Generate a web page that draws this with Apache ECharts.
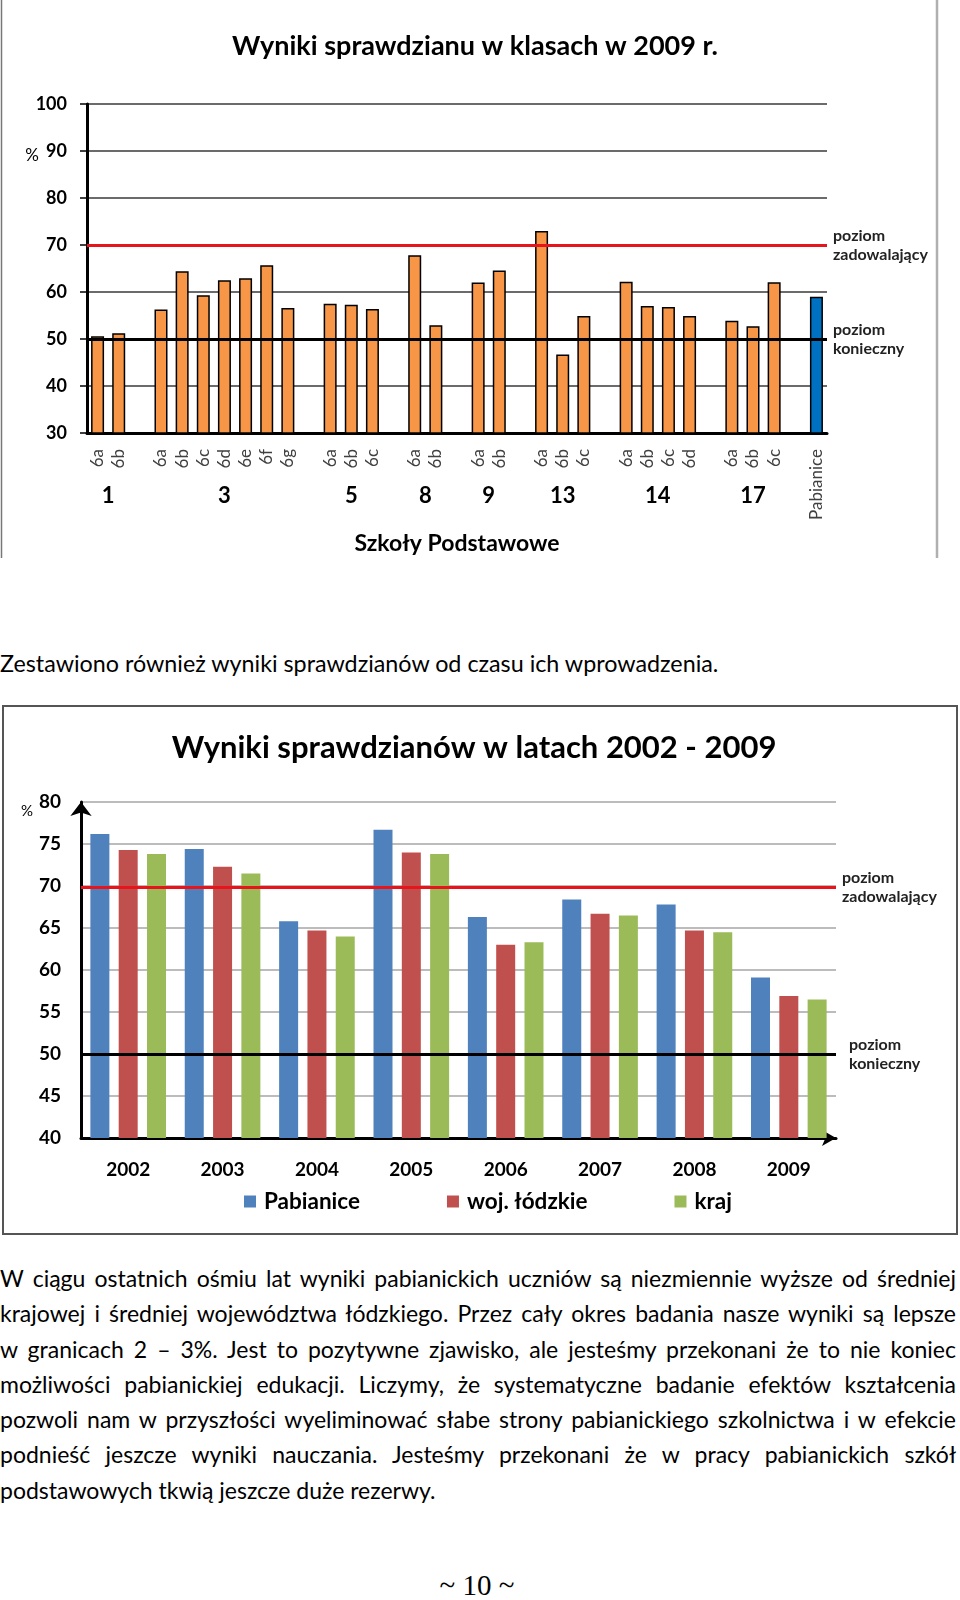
<!DOCTYPE html>
<html>
<head>
<meta charset="utf-8">
<script src="https://cdn.jsdelivr.net/npm/echarts@6/dist/echarts.min.js"></script>
<style>
  html, body { margin:0; padding:0; background:#fff; }
  #page { position:relative; width:960px; height:1600px; background:#fff; overflow:hidden; font-family:Lato, "Open Sans", sans-serif; }
  #c1 { position:absolute; left:0; top:0; width:960px; height:560px; }
  #c2 { position:absolute; left:0; top:700px; width:960px; height:540px; }
  #t1 { position:absolute; left:0; top:649px; font-size:23.3px; line-height:28px; color:#000; white-space:nowrap; }
  #para { position:absolute; left:0; top:1261px; width:956px; font-size:23px; color:#000; }
  #para div { height:35.3px; line-height:35.3px; white-space:nowrap; text-align:justify; text-align-last:justify; }
  #para div.last { text-align:left; text-align-last:left; }
  #pg { position:absolute; left:0; width:954px; top:1568px; text-align:center; font-family:"Liberation Serif", serif; font-size:29px; line-height:34px; }
</style>
</head>
<body>
<div id="page">
  <div id="c1"></div>
  <div id="t1">Zestawiono również wyniki sprawdzianów od czasu ich wprowadzenia.</div>
  <div id="c2"></div>
  <div id="para">
    <div>W ciągu ostatnich ośmiu lat wyniki pabianickich uczniów są niezmiennie wyższe od średniej</div>
    <div>krajowej i średniej województwa łódzkiego. Przez cały okres badania nasze wyniki są lepsze</div>
    <div>w granicach 2 – 3%. Jest to pozytywne zjawisko, ale jesteśmy przekonani że to nie koniec</div>
    <div>możliwości pabianickiej edukacji. Liczymy, że systematyczne badanie efektów kształcenia</div>
    <div>pozwoli nam w przyszłości wyeliminować słabe strony pabianickiego szkolnictwa i w efekcie</div>
    <div>podnieść jeszcze wyniki nauczania. Jesteśmy przekonani że w pracy pabianickich szkół</div>
    <div class="last">podstawowych tkwią jeszcze duże rezerwy.</div>
  </div>
  <div id="pg">~ 10 ~</div>
</div>
<script>
// ---------- Chart 1 data ----------
const title1 = 'Wyniki sprawdzianu w klasach w 2009 r.';
const schools = ['1', '3', '5', '8', '9', '13', '14', '17'];
const schoolClasses = [
  ['6a', '6b'],
  ['6a', '6b', '6c', '6d', '6e', '6f', '6g'],
  ['6a', '6b', '6c'],
  ['6a', '6b'],
  ['6a', '6b'],
  ['6a', '6b', '6c'],
  ['6a', '6b', '6c', '6d'],
  ['6a', '6b', '6c']
];
const schoolScores = [
  [50.6, 51.2],
  [56.3, 64.4, 59.3, 62.5, 62.9, 65.7, 56.6],
  [57.5, 57.3, 56.4],
  [67.8, 52.9],
  [62.0, 64.6],
  [73.0, 46.7, 54.9],
  [62.2, 57.0, 56.8, 54.9],
  [53.9, 52.7, 62.1]
];
const cityLabel = 'Pabianice';
const cityScore = 59.0;
const yTicks1 = [30, 40, 50, 60, 70, 80, 90, 100];
const satisfactory1 = 70;
const required1 = 50;

// ---------- Chart 2 data ----------
const title2 = 'Wyniki sprawdzianów w latach 2002 - 2009';
const years = ['2002', '2003', '2004', '2005', '2006', '2007', '2008', '2009'];
const seriesNames = ['Pabianice', 'woj. łódzkie', 'kraj'];
const pabianice = [76.2, 74.4, 65.8, 76.7, 66.3, 68.4, 67.8, 59.1];
const lodzkie = [74.3, 72.3, 64.7, 74.0, 63.0, 66.7, 64.7, 56.9];
const kraj = [73.8, 71.5, 64.0, 73.8, 63.3, 66.5, 64.5, 56.5];
const yTicks2 = [40, 45, 50, 55, 60, 65, 70, 75, 80];
const satisfactory2 = 69.8;
const required2 = 50;

const FONT = 'Lato';

// build chart 1 categories (empty slot between schools)
const cats1 = [];
const bars1 = [];
const groupCenters = [];
schools.forEach((s, gi) => {
  const start = cats1.length;
  schoolClasses[gi].forEach((c, ci) => {
    cats1.push(c);
    bars1.push({ value: schoolScores[gi][ci] });
  });
  groupCenters.push({ pos: start + schoolClasses[gi].length / 2, label: s });
  cats1.push('');
  bars1.push('-');
});
cats1.push(cityLabel);
bars1.push({ value: cityScore, itemStyle: { color: '#0070C0' } });

const c1 = echarts.init(document.getElementById('c1'), null, { renderer: 'canvas' });
c1.setOption({
  animation: false,
  grid: { left: 87, right: 133, top: 104, bottom: 127 },
  graphic: [
    { type: 'line', shape: { x1: 1.5, y1: 0, x2: 1.5, y2: 558 }, style: { stroke: '#777', lineWidth: 1.5 } },
    { type: 'line', shape: { x1: 937, y1: 0, x2: 937, y2: 558 }, style: { stroke: '#b0b0b0', lineWidth: 2.5 } },
    { type: 'text', x: 475, y: 46, style: { text: title1, font: 'bold 27px ' + FONT, fill: '#000', textAlign: 'center', textVerticalAlign: 'middle' } },
    { type: 'text', x: 32, y: 156, style: { text: '%', font: '17px ' + FONT, fill: '#000', textAlign: 'center', textVerticalAlign: 'middle' } }
  ],
  xAxis: [
    {
      type: 'category', data: cats1,
      axisLine: { lineStyle: { color: '#000', width: 3 } },
      axisTick: { show: false },
      axisLabel: { interval: 0, rotate: 90, margin: 16, fontFamily: FONT, fontSize: 17, color: '#404040' }
    },
    {
      type: 'value', position: 'bottom', min: 0, max: cats1.length, interval: 0.5,
      axisLine: { show: false }, axisTick: { show: false }, splitLine: { show: false },
      axisLabel: {
        margin: 52, fontFamily: FONT, fontSize: 22, fontWeight: 'bold', color: '#000',
        showMinLabel: true, showMaxLabel: true,
        formatter: v => { const g = groupCenters.find(g => Math.abs(g.pos - v) < 0.01); return g ? g.label : ''; }
      },
      name: 'Szkoły Podstawowe', nameLocation: 'middle', nameGap: 99,
      nameTextStyle: { fontFamily: FONT, fontSize: 23, fontWeight: 'bold', color: '#000' }
    }
  ],
  yAxis: {
    type: 'value', min: yTicks1[0], max: yTicks1[yTicks1.length - 1], interval: yTicks1[1] - yTicks1[0],
    axisLine: { show: true, lineStyle: { color: '#000', width: 3 } },
    axisTick: { show: true, length: 7, lineStyle: { color: '#000', width: 1.5 } },
    splitLine: { lineStyle: { color: '#3a3a3a', width: 1.5 } },
    axisLabel: { margin: 20, fontFamily: FONT, fontSize: 18, fontWeight: 'bold', color: '#000' }
  },
  series: [{
    type: 'bar', data: bars1, barWidth: 13,
    itemStyle: { color: '#F79646', borderColor: '#000', borderWidth: 1.5 },
    markLine: {
      symbol: 'none', silent: true,
      label: { position: 'end', distance: 6, fontFamily: FONT, fontSize: 16, fontWeight: 'bold', color: '#222', lineHeight: 19 },
      data: [
        { yAxis: satisfactory1, lineStyle: { color: '#e8141b', width: 3, type: 'solid' }, label: { formatter: 'poziom\nzadowalający' } },
        { yAxis: required1, lineStyle: { color: '#000', width: 3, type: 'solid' }, label: { formatter: 'poziom\nkonieczny' } }
      ]
    }
  }]
});

const c2 = echarts.init(document.getElementById('c2'), null, { renderer: 'canvas' });
const colors2 = ['#4F81BD', '#C0504D', '#9BBB59'];
const vals2 = [pabianice, lodzkie, kraj];
c2.setOption({
  animation: false,
  color: colors2,
  grid: { left: 81, right: 124, top: 102, bottom: 102 },
  graphic: [
    { type: 'rect', shape: { x: 3, y: 6, width: 954, height: 528 }, style: { stroke: '#555', lineWidth: 2, fill: 'none' } },
    { type: 'text', x: 474, y: 48, style: { text: title2, font: 'bold 31px ' + FONT, fill: '#000', textAlign: 'center', textVerticalAlign: 'middle' } },
    { type: 'text', x: 27, y: 111, style: { text: '%', font: '15px ' + FONT, fill: '#000', textAlign: 'center', textVerticalAlign: 'middle' } }
  ],
  legend: {
    left: 244, top: 490, padding: 0, itemGap: 87, itemWidth: 12, itemHeight: 12, icon: 'rect',
    textStyle: { fontFamily: FONT, fontSize: 22.5, fontWeight: 'bold', color: '#000', padding: [0, 0, 0, 3] },
    data: seriesNames
  },
  xAxis: {
    type: 'category', data: years,
    axisLine: { lineStyle: { color: '#000', width: 3 }, symbol: ['none', 'arrow'], symbolSize: [12, 14] },
    axisTick: { show: false },
    axisLabel: { margin: 22, fontFamily: FONT, fontSize: 19, fontWeight: 'bold', color: '#000' }
  },
  yAxis: {
    type: 'value', min: yTicks2[0], max: yTicks2[yTicks2.length - 1], interval: yTicks2[1] - yTicks2[0],
    axisLine: { show: true, lineStyle: { color: '#000', width: 3 }, symbol: ['none', 'arrow'], symbolSize: [16, 14] },
    axisTick: { show: false },
    splitLine: { lineStyle: { color: '#a6a6a6', width: 1.5 } },
    axisLabel: { margin: 20, fontFamily: FONT, fontSize: 19, fontWeight: 'bold', color: '#000' }
  },
  series: seriesNames.map((n, i) => ({
    type: 'bar', name: n, data: vals2[i], barWidth: 19, barGap: '49%',
    markLine: i === 0 ? {
      symbol: 'none', silent: true,
      label: { position: 'end', fontFamily: FONT, fontSize: 16, fontWeight: 'bold', color: '#222', lineHeight: 19 },
      data: [
        { yAxis: satisfactory2, lineStyle: { color: '#e8141b', width: 3, type: 'solid' }, label: { formatter: 'poziom\nzadowalający', distance: 6 } },
        { yAxis: required2, lineStyle: { color: '#000', width: 3, type: 'solid' }, label: { formatter: 'poziom\nkonieczny', distance: 13 } }
      ]
    } : undefined
  }))
});
</script>
</body>
</html>
